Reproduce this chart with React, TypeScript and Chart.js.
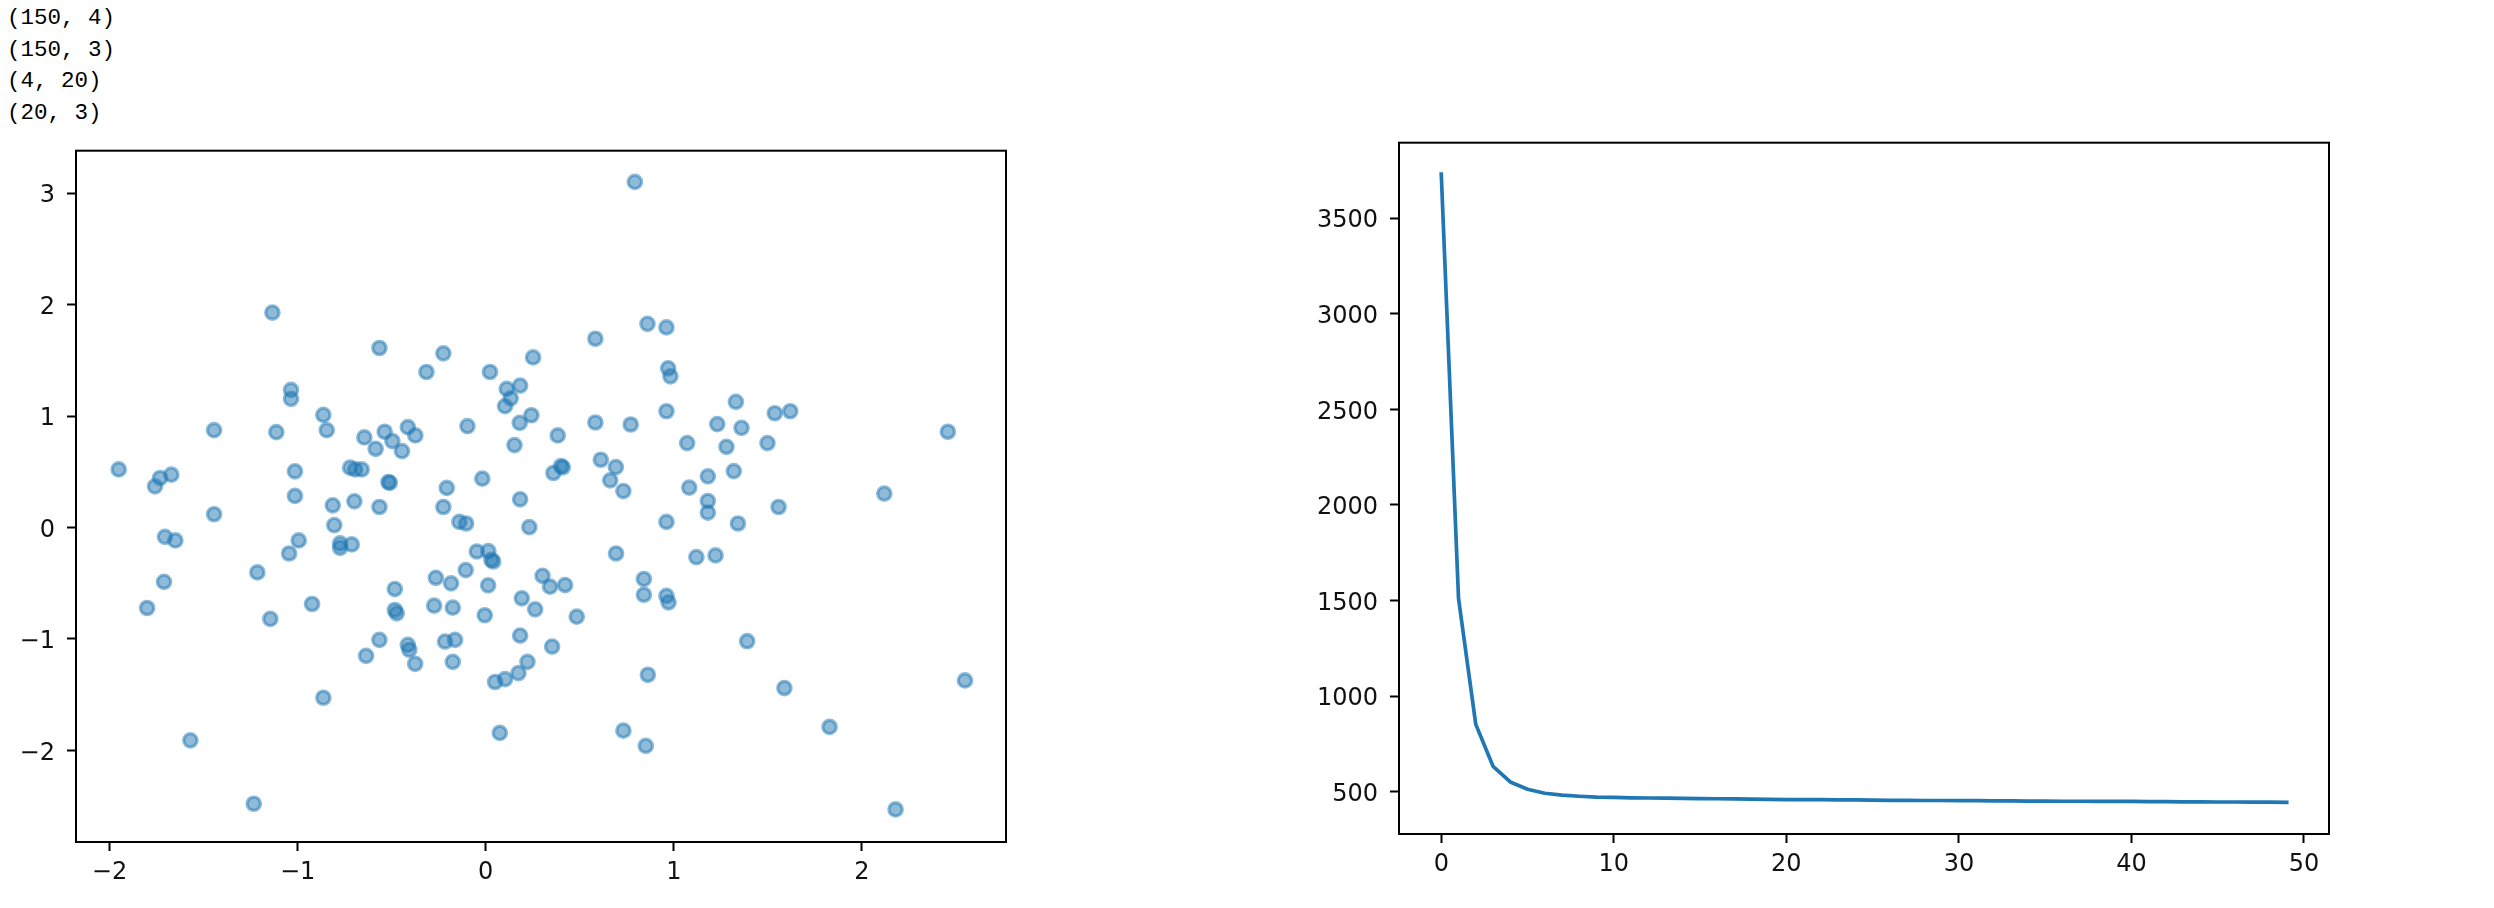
import React, { useEffect, useRef } from 'react';
import Chart from 'chart.js/auto';

// ---- printed shapes (notebook output text) ----
const SHAPE_LINES = ['(150, 4)', '(150, 3)', '(4, 20)', '(20, 3)'];

// ---- scatter data (150 points) ----
const SCATTER_X = [
  -1.134, -0.565, -0.225, -0.315, 0.023, 0.252, 0.112, 0.183, 0.133, 0.103,
  0.243, 0.181, 0.153, -0.097, -1.035, -1.035, -0.863, -0.845, -1.113, -1.444,
  -0.645, -0.537, -0.496, -0.585, -0.445, -0.414, -0.374, -1.951, -1.731, -1.758,
  -1.671, -1.014, -0.721, -0.694, -0.659, -0.517, -0.51, -0.207, -0.018,
  0.793, 0.86, 0.961, 0.583, 0.97, 0.982, 1.33, 1.537, 1.619, 2.457,
  0.961, 0.583, 0.771, 0.383, 1.231, 1.36, 1.071, 1.28, 1.498, 0.612,
  0.692, 0.662, 0.732, 0.4, 0.41, 0.36, 1.181, 1.319, 1.082, 2.119,
  -1.014, -0.813, -0.698, -0.565, -0.225, 0.183, -1.444, 0.232, -0.14, -0.104,
  -1.705, -1.65, -0.805, -0.994, -1.045, -0.774, -0.774, -0.712, -1.214, -1.71,
  -1.8, -1.145, -0.923, -0.483, -0.483, -0.473, -0.265, -0.184, -0.106, -0.047,
  0.014, 0.03, 0.04, 0.013, -0.274, -0.175, -0.005, 0.302, 0.192, 0.263,
  -0.565, -0.636, -0.414, -0.406, -0.375, -0.216, -0.163, -0.175, 0.183, 0.222,
  0.174, 0.05, 0.103, -0.863, 0.075, -1.57, -1.233,
  1.181, 1.181, 1.557, 0.961, 1.341, 0.693, 1.12, 1.222, 0.342, 0.422,
  0.841, 0.841, 0.961, 0.972, 0.484, 0.353, 1.39, 0.862, 1.588, 2.548,
  0.732, 0.851, 1.828, 2.179,
];
const SCATTER_Y = [
  1.928, 1.61, 1.562, 1.395, 1.395, 1.526, 1.243, 1.273, 1.159, 1.088,
  1.007, 0.939, 0.739, 0.909, 1.234, 1.154, 1.01, 0.873, 0.855, 0.873,
  0.808, 0.859, 0.775, 0.706, 0.685, 0.9, 0.826, 0.521, 0.444, 0.369,
  0.474, 0.504, 0.537, 0.521, 0.521, 0.408, 0.4, 0.355, 0.438,
  3.1, 1.827, 1.795, 1.693, 1.428, 1.356, 1.127, 1.025, 1.043, 0.859,
  1.043, 0.942, 0.924, 0.826, 0.927, 0.894, 0.757, 0.724, 0.757, 0.608,
  0.542, 0.423, 0.327, 0.55, 0.54, 0.489, 0.459, 0.506, 0.358, 0.304,
  0.283, 0.199, 0.235, 0.184, 0.184, 0.253, 0.119, 0.003, 0.05, 0.036,
  -0.084, -0.116, 0.021, -0.116, -0.233, -0.143, -0.182, -0.152, -0.403, -0.487,
  -0.722, -0.82, -0.686, -0.552, -0.74, -0.77, -0.451, -0.501, -0.382, -0.215,
  -0.212, -0.29, -0.305, -0.519, -0.701, -0.719, -0.787, -0.433, -0.635, -0.734,
  -1.008, -1.151, -1.053, -1.097, -1.223, -1.023, -1.008, -1.205, -0.969, -1.205,
  -1.306, -1.386, -1.36, -1.527, -1.843, -1.909, -2.478,
  0.238, 0.134, 0.184, 0.05, 0.036, -0.233, -0.266, -0.25, -0.531, -0.516,
  -0.462, -0.603, -0.614, -0.671, -0.8, -1.068, -1.02, -1.321, -1.44, -1.372,
  -1.822, -1.959, -1.789, -2.529,
];
const SCATTER_X_TICKS = [-2, -1, 0, 1, 2];
const SCATTER_Y_TICKS = [-2, -1, 0, 1, 2, 3];

// ---- loss curve (50 iterations) ----
const LOSS = [
  3730, 1510, 852, 633, 551, 513, 492, 482, 476, 472,
  470, 468, 467, 466, 465, 464, 463, 462, 461, 460,
  459, 458, 458, 457, 457, 456, 455, 455, 454, 454,
  453, 453, 452, 452, 451, 451, 450, 450, 449, 449,
  449, 448, 448, 447, 447, 446, 446, 445, 445, 444,
];
const LINE_X_TICKS = [0, 10, 20, 30, 40, 50];
const LINE_Y_TICKS = [500, 1000, 1500, 2000, 2500, 3000, 3500];

const fmt = (v: number) => (v < 0 ? '\u2212' + String(Math.abs(v)) : String(v));

const framePlugin = {
  id: 'frame',
  afterDraw(chart: any) {
    const { ctx, chartArea: a } = chart;
    ctx.save();
    ctx.strokeStyle = '#000';
    ctx.lineWidth = 2;
    ctx.strokeRect(a.left, a.top, a.right - a.left, a.bottom - a.top);
    ctx.restore();
  },
};

function axis(min: number, max: number, ticks: number[], size: number, isX: boolean) {
  return {
    type: 'linear',
    position: isX ? 'bottom' : 'left',
    min,
    max,
    afterBuildTicks: (s: any) => {
      s.ticks = ticks.map((v) => ({ value: v }));
    },
    afterFit: (s: any) => {
      if (isX) s.height = size;
      else s.width = size;
    },
    grid: {
      display: true,
      drawOnChartArea: false,
      drawTicks: true,
      tickLength: 9,
      tickWidth: 2,
      tickColor: '#000',
      color: '#000',
    },
    border: { display: false },
    ticks: {
      color: '#111',
      font: { family: 'DejaVu Sans', size: 24 },
      padding: isX ? 7 : 12,
      labelOffset: isX ? 0 : 3,
      autoSkip: false,
      maxRotation: 0,
      callback: (v: number) => fmt(v),
    },
  };
}

function ChartCanvas({ config, left, top, width, height }: any) {
  const ref = useRef<HTMLCanvasElement | null>(null);
  useEffect(() => {
    const chart = new Chart(ref.current as HTMLCanvasElement, config);
    return () => chart.destroy();
  }, []);
  return (
    <canvas
      ref={ref}
      width={width}
      height={height}
      style={{ position: 'absolute', left, top, width, height, display: 'block' }}
    />
  );
}

const scatterConfig: any = {
  type: 'scatter',
  data: {
    datasets: [
      {
        data: SCATTER_X.map((x, i) => ({ x, y: SCATTER_Y[i] })),
        pointBackgroundColor: 'rgba(31,119,180,0.5)',
        pointBorderColor: 'rgba(31,119,180,0.5)',
        pointBorderWidth: 3.3,
        pointRadius: 6.7,
        pointHoverRadius: 6.7,
      },
    ],
  },
  options: {
    animation: false,
    responsive: false,
    devicePixelRatio: 1,
    events: [],
    layout: { padding: { top: 50.7, left: 0, right: 34, bottom: 0 } },
    plugins: { legend: { display: false }, tooltip: { enabled: false } },
    scales: {
      x: axis(-2.178, 2.766, SCATTER_X_TICKS, 66, true),
      y: axis(-2.821, 3.38, SCATTER_Y_TICKS, 76, false),
    },
  },
  plugins: [framePlugin],
};

const lineConfig: any = {
  type: 'line',
  data: {
    datasets: [
      {
        data: LOSS.map((y, i) => ({ x: i, y })),
        borderColor: '#1f77b4',
        borderWidth: 3.7,
        pointRadius: 0,
        tension: 0,
        fill: false,
        borderCapStyle: 'square',
        borderJoinStyle: 'round',
      },
    ],
  },
  options: {
    animation: false,
    responsive: false,
    devicePixelRatio: 1,
    events: [],
    layout: { padding: { top: 42.7, left: 0, right: 31, bottom: 0 } },
    plugins: { legend: { display: false }, tooltip: { enabled: false } },
    scales: {
      x: axis(-2.45, 51.45, LINE_X_TICKS, 74, true),
      y: axis(278.7, 3894.3, LINE_Y_TICKS, 99, false),
    },
  },
  plugins: [framePlugin],
};

export default function App() {
  return (
    <div
      style={{
        position: 'absolute',
        left: 0,
        top: 0,
        width: 2494,
        height: 908,
        overflow: 'hidden',
        background: '#fff',
      }}
    >
      <div
        style={{
          position: 'absolute',
          left: 7,
          top: 3,
          fontFamily: '"Liberation Mono", monospace',
          fontSize: 22.5,
          lineHeight: '31.7px',
          whiteSpace: 'pre',
          color: '#000',
        }}
      >
        {SHAPE_LINES.map((s, i) => (
          <div key={i}>{s}</div>
        ))}
      </div>
      <ChartCanvas config={scatterConfig} left={0} top={100} width={1040} height={808} />
      <ChartCanvas config={lineConfig} left={1300} top={100} width={1060} height={808} />
    </div>
  );
}
